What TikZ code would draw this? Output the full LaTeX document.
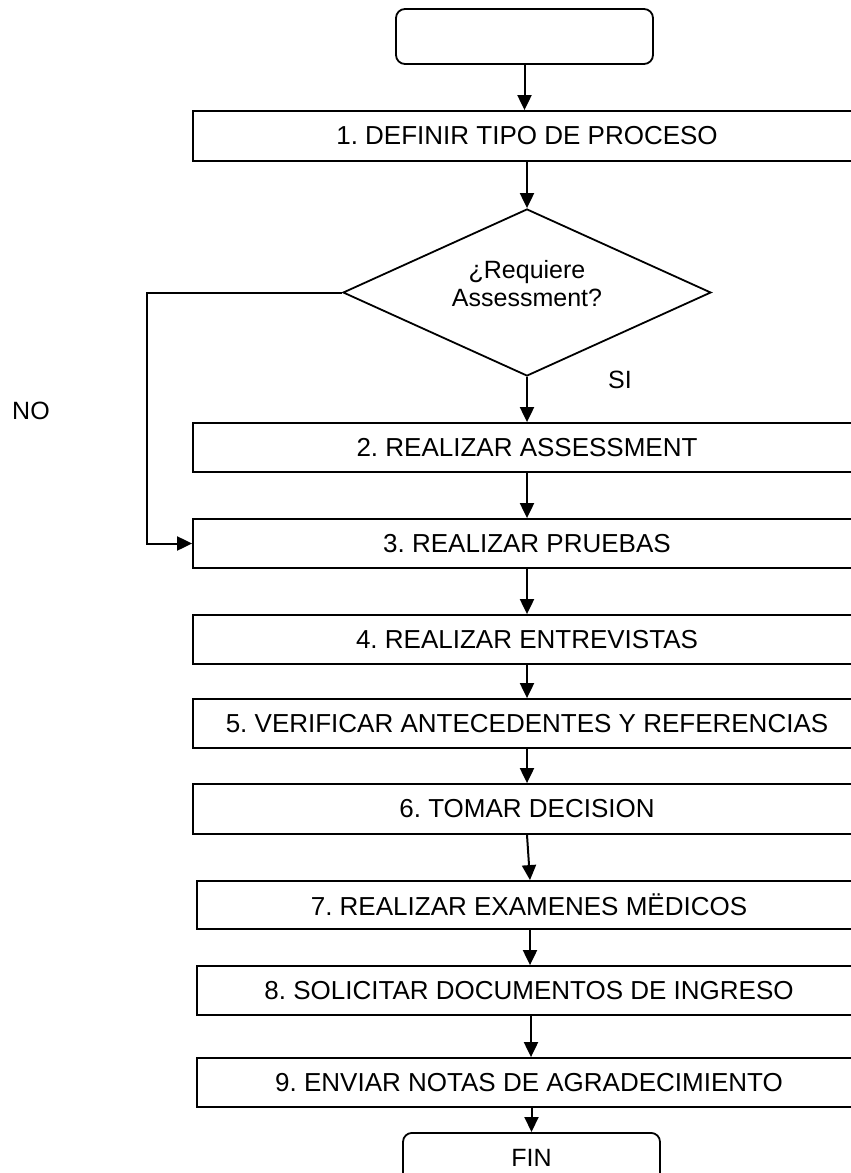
\documentclass[tikz,border=0pt]{standalone}
\usepackage{fontspec}
\setmainfont{Liberation Sans}
\usetikzlibrary{arrows.meta,shapes.geometric}
\frenchspacing
\begin{document}
\begin{tikzpicture}[x=1pt,y=-1pt,
  every node/.style={font=\fontsize{26}{30}\selectfont},
  stepbox/.style={draw,line width=1.8pt,rectangle,inner sep=0pt,minimum width=668pt},
  narrowbox/.style={stepbox,minimum width=664pt},
  termbox/.style={draw,line width=1.8pt,rectangle,rounded corners=9pt,inner sep=0pt,minimum width=257pt},
  decbox/.style={draw,line width=1.8pt,diamond,aspect=2.2,inner sep=0pt,minimum width=368pt,minimum height=167pt,align=center,text depth=18pt,font=\fontsize{25}{28}\selectfont},
  arr/.style={line width=2pt,-{Triangle[length=15pt,width=14pt]}},
  lbl/.style={inner sep=0pt,font=\fontsize{25}{28}\selectfont}]
\useasboundingbox (0,0) rectangle (851,1173);
\clip (0,0) rectangle (851,1173);
\fill[white] (0,0) rectangle (851,1173);

\node[termbox,minimum height=55pt] (start) at (524.5,36.5) {};
\node[stepbox,minimum height=50pt] (b1) at (527,136) {1. DEFINIR TIPO DE PROCESO};
\node[decbox] (dec) at (527,292.5) {¿Requiere\\Assessment?};
\node[stepbox,minimum height=49pt] (b2) at (527,447.5) {2. REALIZAR ASSESSMENT};
\node[stepbox,minimum height=49pt] (b3) at (527,543.5) {3. REALIZAR PRUEBAS};
\node[stepbox,minimum height=49pt] (b4) at (527,639.5) {4. REALIZAR ENTREVISTAS};
\node[stepbox,minimum height=49pt] (b5) at (527,723.5) {5. VERIFICAR ANTECEDENTES Y REFERENCIAS};
\node[stepbox,minimum height=50pt] (b6) at (527,809) {6. TOMAR DECISION};
\node[narrowbox,minimum height=48pt] (b7) at (529,905) {7. REALIZAR EXAMENES MËDICOS};
\node[narrowbox,minimum height=49pt] (b8) at (529,990.5) {8. SOLICITAR DOCUMENTOS DE INGRESO};
\node[narrowbox,minimum height=49pt] (b9) at (529,1082.5) {9. ENVIAR NOTAS DE AGRADECIMIENTO};
\node[termbox,minimum height=56pt,anchor=north] (fin) at (531.5,1132) {};
\node[lbl] (fintext) at (531.5,1158) {FIN};

\node[lbl] (si) at (620,380) {SI};
\node[lbl] (no) at (31,411) {NO};
\coordinate (nocorner) at (147,292.5);

\draw[arr] (start.south) -- (start.south |- b1.north);
\draw[arr] (b1.south) -- (dec.north);
\draw[arr] (dec.south) -- (b2.north);
\draw[arr] (b2.south) -- (b3.north);
\draw[arr] (b3.south) -- (b4.north);
\draw[arr] (b4.south) -- (b5.north);
\draw[arr] (b5.south) -- (b6.north);
\draw[arr] (b6.south) -- ([xshift=1pt]b7.north);
\draw[arr] ([xshift=1pt]b7.south) -- ([xshift=1pt]b8.north);
\draw[arr] ([xshift=2pt]b8.south) -- ([xshift=2pt]b9.north);
\draw[arr] (fin.north |- b9.south) -- (fin.north);
\draw[arr] (dec.west) -- (nocorner) |- (b3.west);
\end{tikzpicture}
\end{document}
